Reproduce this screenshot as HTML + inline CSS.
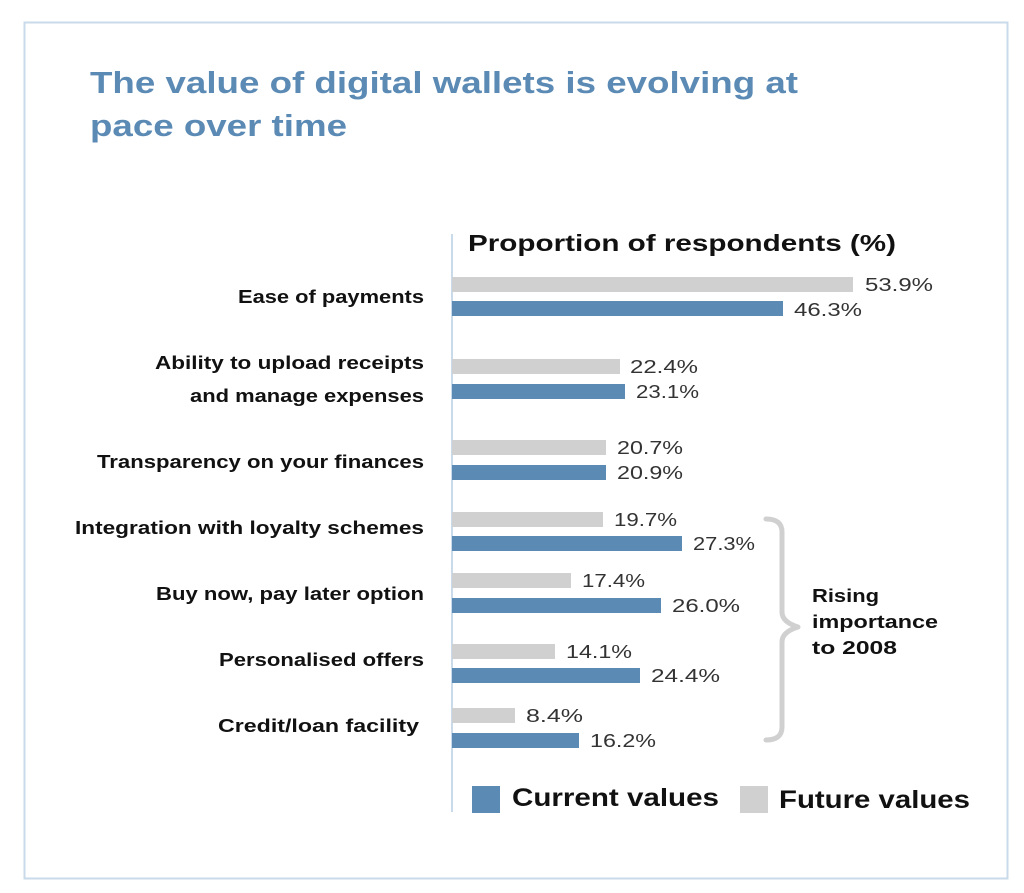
<!DOCTYPE html>
<html><head><meta charset="utf-8"><style>
html,body{margin:0;padding:0;background:#fff;}
svg{display:block;font-family:"Liberation Sans",sans-serif;}
</style></head><body>
<svg width="1024" height="893" viewBox="0 0 1024 893" xmlns="http://www.w3.org/2000/svg">
<rect x="24.5" y="22.5" width="983" height="856" fill="#fff" stroke="#c9daea" stroke-width="2"/>
<text x="90" y="93" font-size="31" font-weight="bold" fill="#5b8ab5" textLength="708" lengthAdjust="spacingAndGlyphs">The value of digital wallets is evolving at</text>
<text x="90" y="136" font-size="31" font-weight="bold" fill="#5b8ab5" textLength="257" lengthAdjust="spacingAndGlyphs">pace over time</text>
<line x1="452" y1="234" x2="452" y2="812" stroke="#c9daea" stroke-width="2"/>
<text x="468" y="251" font-size="23" font-weight="bold" fill="#111" textLength="428" lengthAdjust="spacingAndGlyphs">Proportion of respondents (%)</text>
<g font-size="18" font-weight="bold" fill="#111" lengthAdjust="spacingAndGlyphs">
<text x="238" y="303" textLength="186" lengthAdjust="spacingAndGlyphs">Ease of payments</text>
<text x="155" y="369" textLength="269" lengthAdjust="spacingAndGlyphs">Ability to upload receipts</text>
<text x="190" y="402" textLength="234" lengthAdjust="spacingAndGlyphs">and manage expenses</text>
<text x="97" y="468" textLength="327" lengthAdjust="spacingAndGlyphs">Transparency on your finances</text>
<text x="75" y="534" textLength="349" lengthAdjust="spacingAndGlyphs">Integration with loyalty schemes</text>
<text x="156" y="600" textLength="268" lengthAdjust="spacingAndGlyphs">Buy now, pay later option</text>
<text x="219" y="666" textLength="205" lengthAdjust="spacingAndGlyphs">Personalised offers</text>
<text x="218" y="732" textLength="201" lengthAdjust="spacingAndGlyphs">Credit/loan facility</text>
</g>
<g fill="#d0d0d0">
<rect x="452" y="277" width="401" height="15"/>
<rect x="452" y="359" width="168" height="15"/>
<rect x="452" y="440" width="154" height="15"/>
<rect x="452" y="512" width="151" height="15"/>
<rect x="452" y="573" width="119" height="15"/>
<rect x="452" y="644" width="103" height="15"/>
<rect x="452" y="708" width="63" height="15"/>
</g>
<g fill="#5b8ab5">
<rect x="452" y="301" width="331" height="15"/>
<rect x="452" y="384" width="173" height="15"/>
<rect x="452" y="465" width="154" height="15"/>
<rect x="452" y="536" width="230" height="15"/>
<rect x="452" y="598" width="209" height="15"/>
<rect x="452" y="668" width="188" height="15"/>
<rect x="452" y="733" width="127" height="15"/>
</g>
<g font-size="18" fill="#333">
<text x="865" y="291" textLength="68" lengthAdjust="spacingAndGlyphs">53.9%</text>
<text x="794" y="316" textLength="68" lengthAdjust="spacingAndGlyphs">46.3%</text>
<text x="630" y="373" textLength="68" lengthAdjust="spacingAndGlyphs">22.4%</text>
<text x="636" y="398" textLength="63" lengthAdjust="spacingAndGlyphs">23.1%</text>
<text x="617" y="454" textLength="66" lengthAdjust="spacingAndGlyphs">20.7%</text>
<text x="617" y="479" textLength="66" lengthAdjust="spacingAndGlyphs">20.9%</text>
<text x="614" y="526" textLength="63" lengthAdjust="spacingAndGlyphs">19.7%</text>
<text x="693" y="550" textLength="62" lengthAdjust="spacingAndGlyphs">27.3%</text>
<text x="582" y="587" textLength="63" lengthAdjust="spacingAndGlyphs">17.4%</text>
<text x="672" y="612" textLength="68" lengthAdjust="spacingAndGlyphs">26.0%</text>
<text x="566" y="658" textLength="66" lengthAdjust="spacingAndGlyphs">14.1%</text>
<text x="651" y="682" textLength="69" lengthAdjust="spacingAndGlyphs">24.4%</text>
<text x="526" y="722" textLength="57" lengthAdjust="spacingAndGlyphs">8.4%</text>
<text x="590" y="747" textLength="66" lengthAdjust="spacingAndGlyphs">16.2%</text>
</g>
<path d="M766 519 Q782 519 782 532 L782 612 Q782 622 798 627 Q782 632 782 642 L782 727 Q782 740 766 740" fill="none" stroke="#d0d0d0" stroke-width="5" stroke-linecap="round" stroke-linejoin="round"/>
<g font-size="18" font-weight="bold" fill="#111">
<text x="812" y="602" textLength="67" lengthAdjust="spacingAndGlyphs">Rising</text>
<text x="812" y="628" textLength="126" lengthAdjust="spacingAndGlyphs">importance</text>
<text x="812" y="654" textLength="85" lengthAdjust="spacingAndGlyphs">to 2008</text>
</g>
<rect x="472" y="786" width="28" height="27" fill="#5b8ab5"/>
<text x="512" y="806" font-size="25" font-weight="bold" fill="#111" textLength="207" lengthAdjust="spacingAndGlyphs">Current values</text>
<rect x="740" y="786" width="28" height="27" fill="#d0d0d0"/>
<text x="779" y="808" font-size="25" font-weight="bold" fill="#111" textLength="191" lengthAdjust="spacingAndGlyphs">Future values</text>
</svg>
</body></html>
